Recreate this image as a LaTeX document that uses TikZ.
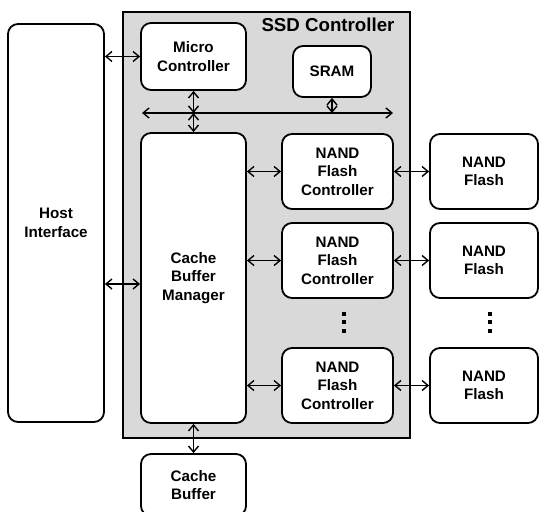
\documentclass[tikz,border=0pt]{standalone}
\usepackage{fontspec}
\setmainfont{Liberation Sans}
\usetikzlibrary{arrows.meta}
\begin{document}
\begin{tikzpicture}[x=1pt,y=-1pt,
  blk/.style={draw=black,line width=1.8pt,fill=white,rounded corners=10pt,
    align=center,font=\bfseries\fontsize{15.2}{18.5}\selectfont,inner sep=0pt},
  link/.style={line width=1.4pt,{Straight Barb[length=6pt,width=10pt]}-{Straight Barb[length=6pt,width=10pt]}},
  dotcol/.style={minimum width=6pt,minimum height=22pt,inner sep=0pt}]
\useasboundingbox (0,0) rectangle (540,511);
% controller housing
\node[draw=black,line width=1.8pt,fill=black!15,minimum width=287pt,minimum height=426pt,
  inner sep=0pt] (ssd) at (266.5,225) {};
\node[font=\bfseries\fontsize{18.7}{22}\selectfont] (title) at (328,25) {SSD Controller};
% blocks
\node[blk,minimum width=96pt,minimum height=398pt] (host) at (56,223) {Host\\Interface};
\node[blk,minimum width=105pt,minimum height=67pt] (mc) at (193.5,56.5) {Micro\\Controller};
\node[blk,minimum width=78pt,minimum height=51pt] (sram) at (332,71.5) {SRAM};
\node[blk,minimum width=105pt,minimum height=290pt] (cbm) at (193.5,278) {Cache\\Buffer\\Manager};
\node[blk,minimum width=105pt,minimum height=62pt] (cb) at (193.5,485) {Cache\\Buffer};
\node[blk,minimum width=111pt,minimum height=75pt] (nfc1) at (337.5,171.5) {NAND\\Flash\\Controller};
\node[blk,minimum width=111pt,minimum height=75pt] (nfc2) at (337.5,260.5) {NAND\\Flash\\Controller};
\node[blk,minimum width=111pt,minimum height=75pt] (nfc3) at (337.5,385.5) {NAND\\Flash\\Controller};
\node[blk,minimum width=108pt,minimum height=75pt] (nf1) at (484,171.5) {NAND\\Flash};
\node[blk,minimum width=108pt,minimum height=75pt] (nf2) at (484,260.5) {NAND\\Flash};
\node[blk,minimum width=108pt,minimum height=75pt] (nf3) at (484,385.5) {NAND\\Flash};
% vertical ellipses
\foreach \n/\x in {d1/344,d2/490}{
  \node[dotcol] (\n) at (\x,322) {};
  \foreach \dy in {-8.5,0,8.5}
    \fill ([xshift=-2pt,yshift=-2pt-\dy]\n.center) rectangle ++(4pt,4pt);
}
% internal bus
\coordinate (busL) at (142,113);
\coordinate (busR) at (393,113);
\coordinate (busMC) at (193.5,113);
\coordinate (busSR) at (332,113);
\draw[link] (busL) -- (busR);
\draw[link] (mc.south) -- (busMC);
\draw[link] (busMC) -- (cbm.north);
\draw[link] (sram.south) -- (busSR);
% data paths
\draw[link] (host.east |- mc.west) -- (mc.west);
\draw[link] (host.east |- 0,284) -- (cbm.west |- 0,284);
\draw[link] (cbm.east |- nfc1.west) -- (nfc1.west);
\draw[link] (cbm.east |- nfc2.west) -- (nfc2.west);
\draw[link] (cbm.east |- nfc3.west) -- (nfc3.west);
\draw[link] (nfc1.east) -- (nf1.west);
\draw[link] (nfc2.east) -- (nf2.west);
\draw[link] (nfc3.east) -- (nf3.west);
\draw[link] (cbm.south) -- (cb.north);
\end{tikzpicture}
\end{document}
